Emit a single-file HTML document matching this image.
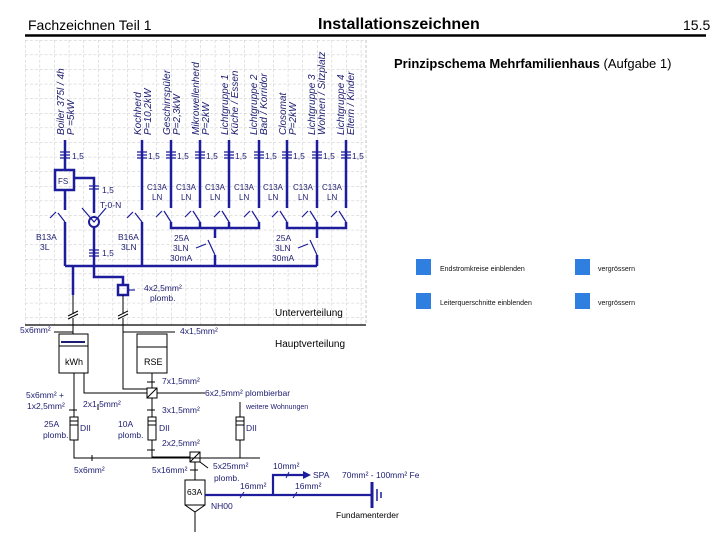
<!DOCTYPE html>
<html><head><meta charset="utf-8"><style>
html,body{margin:0;padding:0;background:#fff;}
svg{display:block;font-family:"Liberation Sans",sans-serif;}
.b{stroke:#1c1c9c;stroke-width:2.5;fill:none}
.k{stroke:#000;stroke-width:1;fill:none}
.t{fill:#1c1c70;font-size:8.5px}
.r{fill:#1c1c70;font-size:10px;font-style:italic}
</style></head><body>
<svg width="720" height="540" viewBox="0 0 720 540" xmlns="http://www.w3.org/2000/svg">
<defs>
<pattern id="g" x="25" y="40" width="14.6" height="14.6" patternUnits="userSpaceOnUse">
<path d="M0 0V14.6M0 0H14.6" stroke="#c4c4c4" stroke-width="1" stroke-dasharray="3,2" fill="none"/>
</pattern>
</defs>
<rect x="25" y="40" width="342" height="285" fill="url(#g)"/>
<line x1="366" y1="40" x2="366" y2="325" stroke="#c4c4c4" stroke-dasharray="3,2"/>
<!-- header -->
<text x="28" y="30" font-size="14" fill="#000">Fachzeichnen Teil 1</text>
<text x="318" y="29" font-size="16" font-weight="bold" fill="#000">Installationszeichnen</text>
<text x="683" y="30" font-size="14" fill="#000">15.5</text>
<line x1="25" y1="35.5" x2="706" y2="35.5" stroke="#000" stroke-width="2.5"/>
<text x="394" y="68" font-size="13" fill="#000"><tspan font-weight="bold">Prinzipschema Mehrfamilienhaus</tspan> (Aufgabe 1)</text>
<!-- rotated labels -->
<g class="r">
<text transform="translate(64,135) rotate(-90)">Boiler 375l / 4h</text>
<text transform="translate(74,135) rotate(-90)">P =5kW</text>
<text transform="translate(141,135) rotate(-90)">Kochherd</text>
<text transform="translate(151,135) rotate(-90)">P=10,2kW</text>
<text transform="translate(170,135) rotate(-90)">Geschirrspüler</text>
<text transform="translate(180,135) rotate(-90)">P=2,3kW</text>
<text transform="translate(199,135) rotate(-90)">Mikrowellenherd</text>
<text transform="translate(209,135) rotate(-90)">P=2kW</text>
<text transform="translate(228,135) rotate(-90)">Lichtgruppe 1</text>
<text transform="translate(238,135) rotate(-90)">Küche / Essen</text>
<text transform="translate(257,135) rotate(-90)">Lichtgruppe 2</text>
<text transform="translate(267,135) rotate(-90)">Bad / Korridor</text>
<text transform="translate(286,135) rotate(-90)">Closomat</text>
<text transform="translate(296,135) rotate(-90)">P=2kW</text>
<text transform="translate(315,135) rotate(-90)">Lichtgruppe 3</text>
<text transform="translate(325,135) rotate(-90)">Wohnen / Sitzplatz</text>
<text transform="translate(344,135) rotate(-90)">Lichtgruppe 4</text>
<text transform="translate(354,135) rotate(-90)">Eltern / Kinder</text>
</g>
<!-- feeders -->
<g class="b">
<path d="M65 140V170M65 190V210M65 222V266"/>
<rect x="55" y="170" width="19" height="20"/>
<path d="M74 178H94V213M94 227V266"/>
<path d="M142 140V210M142 222V266"/>
<path d="M171 140V208M171 222V228H259V222M259 140V208"/>
<path d="M200 140V208M200 222V228M229 140V208M229 222V228"/>
<path d="M215 228V238M215 255V266"/>
<path d="M287 140V208M287 222V228H346V222M346 140V208M317 140V208M317 222V228"/>
<path d="M317 228V238M317 255V266"/>
<path d="M65 266H317"/>
<path d="M73 266V295M94 266V277H123V285"/>
<rect x="118" y="285" width="10" height="10"/>
</g>
<g stroke="#1c1c9c" stroke-width="1.2" fill="none">
<path d="M58 213L65 222M135 213L142 222M164 211L171 222M193 211L200 222M222 211L229 222M252 211L259 222M280 211L287 222M310 211L317 222M339 211L346 222"/>
<path d="M50 218L56 212M127 218L133 212M156 217L162 211M185 217L191 211M214 217L220 211M244 217L250 211M272 217L278 211M302 217L308 211M331 217L337 211"/>
<path d="M215 255L208 240M317 255L310 240M196 248L206 244M298 248L308 244"/>
<path d="M82 208L94 222L106 208"/>
<circle cx="94" cy="222" r="5" stroke-width="2"/>
<path d="M128 290H135"/>
<g stroke-width="1.3">
<path d="M60 152h10M60 155h10M60 158h10M137 152h10M137 155h10M137 158h10M166 152h10M166 155h10M166 158h10M195 152h10M195 155h10M195 158h10M224 152h10M224 155h10M224 158h10M254 152h10M254 155h10M254 158h10M282 152h10M282 155h10M282 158h10M312 152h10M312 155h10M312 158h10M341 152h10M341 155h10M341 158h10"/>
<path d="M89 186h10M89 189h10M89 250h10M89 253h10M89 256h10"/>
</g>
</g>
<g class="t">
<text x="72" y="159">1,5</text><text x="148" y="159">1,5</text><text x="177" y="159">1,5</text><text x="206" y="159">1,5</text><text x="235" y="159">1,5</text><text x="265" y="159">1,5</text><text x="293" y="159">1,5</text><text x="323" y="159">1,5</text><text x="352" y="159">1,5</text>
<text x="58" y="184" font-size="8">FS</text>
<text x="102" y="193">1,5</text><text x="100" y="208">T-0-N</text><text x="102" y="256">1,5</text>
<text x="36" y="240">B13A</text><text x="40" y="250">3L</text>
<text x="118" y="240">B16A</text><text x="121" y="250">3LN</text>
<g font-size="8"><text x="147" y="190">C13A</text><text x="152" y="200">LN</text>
<text x="176" y="190">C13A</text><text x="181" y="200">LN</text>
<text x="205" y="190">C13A</text><text x="210" y="200">LN</text>
<text x="234" y="190">C13A</text><text x="239" y="200">LN</text>
<text x="263" y="190">C13A</text><text x="268" y="200">LN</text>
<text x="293" y="190">C13A</text><text x="298" y="200">LN</text>
<text x="322" y="190">C13A</text><text x="327" y="200">LN</text></g>
<text x="174" y="241">25A</text><text x="173" y="251">3LN</text><text x="170" y="261">30mA</text>
<text x="276" y="241">25A</text><text x="275" y="251">3LN</text><text x="272" y="261">30mA</text>
<text x="144" y="291">4x2,5mm²</text><text x="150" y="301">plomb.</text>
</g>
<text x="275" y="316" font-size="10" fill="#000">Unterverteilung</text>
<line x1="25" y1="325" x2="366" y2="325" stroke="#000" stroke-width="1.2"/>
<text x="275" y="347" font-size="10" fill="#000">Hauptverteilung</text>
<!-- lower -->
<g class="k">
<path d="M73 295V313M73 318V334M123 295V313M123 318V389H147"/>
<path d="M68 316l10-5M68 319l10-5M118 316l10-5M118 319l10-5"/>
<path d="M54 332H73M123 332H175"/>
<rect x="59" y="334" width="29" height="39"/><line x1="59" y1="346" x2="88" y2="346"/>
<rect x="137" y="334" width="30" height="39"/><line x1="137" y1="347" x2="167" y2="347"/>
<path d="M74 373V417M74 440V458H260M84 373V393H147"/>
<rect x="147" y="388" width="10" height="10"/><path d="M147 398L157 388"/>
<path d="M152 373V388M157 393H205M152 398V417M152 440V452"/>
<path d="M240 402V417M240 440V458"/>
<rect x="70" y="417" width="8" height="23"/><path d="M70 421h8M70 425h8"/>
<rect x="148" y="417" width="8" height="23"/><path d="M148 421h8M148 425h8"/>
<rect x="236" y="417" width="8" height="23"/><path d="M236 421h8M236 425h8"/>
<rect x="190" y="452" width="10" height="10"/><path d="M190 462L200 452"/>
<path d="M152 452V457H190M195 462V480M200 462L208 468"/>
<path d="M185 480H205V505L195 512L185 505Z"/>
<path d="M185 505H205M195 512V532"/>
<path d="M69 410h8M147 382h8M147 410h8M147 450h8M190 470h8M98 404v6M92 455v6"/>
</g>
<g class="b">
<path d="M205 495H372M273 495V475H303" stroke-width="2.2"/>
<path d="M372 482V508" stroke-width="3"/>
</g>
<path d="M303 471L311 475L303 479Z" fill="#1c1c9c"/>
<path d="M377 489V501M381 492V498" stroke="#1c1c9c" stroke-width="1.5"/>
<path d="M240 498l4-6M293 498l4-6M286 478l3-6" stroke="#1c1c9c" stroke-width="1"/>
<g class="t" font-size="8">
<text x="20" y="333">5x6mm²</text>
<text x="180" y="334">4x1,5mm²</text>
<rect x="61" y="341" width="24" height="2" fill="#1c1c70"/>
<text x="65" y="365" font-size="9" fill="#000">kWh</text>
<text x="144" y="365" font-size="9" fill="#000">RSE</text>
<text x="162" y="384">7x1,5mm²</text>
<text x="205" y="396">6x2,5mm² plombierbar</text>
<text x="246" y="409" font-size="7">weitere Wohnungen</text>
<text x="26" y="398">5x6mm² +</text><text x="27" y="409">1x2,5mm²</text>
<text x="83" y="407">2x1,5mm²</text>
<text x="162" y="413">3x1,5mm²</text>
<text x="44" y="427">25A</text><text x="43" y="438">plomb.</text><text x="80" y="431">DII</text>
<text x="118" y="427">10A</text><text x="118" y="438">plomb.</text><text x="159" y="431">DII</text>
<text x="246" y="431">DII</text>
<text x="162" y="446">2x2,5mm²</text>
<text x="74" y="473">5x6mm²</text>
<text x="152" y="473">5x16mm²</text>
<text x="213" y="469">5x25mm²</text><text x="214" y="481">plomb.</text>
<text x="187" y="495" fill="#000">63A</text>
<text x="211" y="509">NH00</text>
<text x="240" y="489">16mm²</text><text x="295" y="489">16mm²</text>
<text x="273" y="469">10mm²</text><text x="313" y="478">SPA</text>
<text x="342" y="478">70mm² - 100mm² Fe</text>
<text x="336" y="518" fill="#000">Fundamenterder</text>
</g>
<!-- buttons -->
<g fill="#2f7fe0">
<rect x="416" y="259" width="15" height="16"/><rect x="575" y="259" width="15" height="16"/>
<rect x="416" y="293" width="15" height="16"/><rect x="575" y="293" width="15" height="16"/>
</g>
<g fill="#111" font-size="7">
<text x="440" y="271">Endstromkreise einblenden</text><text x="598" y="271">vergrössern</text>
<text x="440" y="305">Leiterquerschnitte einblenden</text><text x="598" y="305">vergrössern</text>
</g>
</svg>
</body></html>
